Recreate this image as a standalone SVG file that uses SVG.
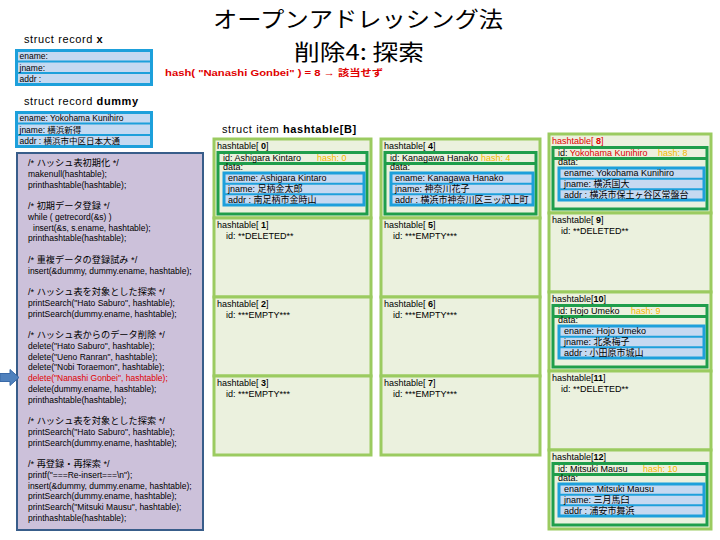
<svg xmlns="http://www.w3.org/2000/svg" width="720" height="540" viewBox="0 0 720 540">
<style>
.t{font-family:"Liberation Sans","Noto Sans CJK JP",sans-serif;font-size:9px;fill:#000}
.s{font-size:8.5px}
.cm{font-size:9.2px}
.b{font-weight:bold}
.red{fill:#E00000}
.hash{fill:#F5B800}
.cell{fill:#EBF1DE;stroke:#9BCB60;stroke-width:3}
.frame{fill:#EBF1DE;stroke:#1F9E4B;stroke-width:3}
.gsep{stroke:#1F9E4B;stroke-width:3}
.bframe{fill:#C5D9F1;stroke:#1DA0DB;stroke-width:3}
.bsep{stroke:#1DA0DB;stroke-width:2}
.code{fill:#CCC1DA;stroke:#385D8A;stroke-width:2}
.title{font-family:"Noto Sans CJK JP","Liberation Sans",sans-serif;font-size:22px;fill:#000;text-anchor:middle}
.lbl{font-family:"Liberation Sans","Noto Sans CJK JP",sans-serif;font-size:11px;letter-spacing:0.6px;fill:#000}
</style>

<g id="title">
<text class="title" x="358" y="27" textLength="290" lengthAdjust="spacingAndGlyphs">オープンアドレッシング法</text>
<text class="title" x="359" y="59.5" textLength="130" lengthAdjust="spacingAndGlyphs">削除4: 探索</text>
</g>

<g id="hash-note">
<text class="t b red" x="165" y="76" font-size="10" textLength="218" lengthAdjust="spacingAndGlyphs">hash( "Nanashi Gonbei" ) = 8 → 該当せず</text>
</g>

<g id="record-x">
<text class="lbl" x="24" y="43">struct record <tspan class="b">x</tspan></text>
<rect class="bframe" x="16.5" y="50.5" width="135" height="34"/>
<line class="bsep" x1="16.5" y1="61.5" x2="151.5" y2="61.5"/>
<line class="bsep" x1="16.5" y1="73" x2="151.5" y2="73"/>
<text class="t s" x="19.5" y="58.5">ename:</text>
<text class="t s" x="19.5" y="70.5">jname:</text>
<text class="t s" x="19.5" y="82">addr :</text>
</g>

<g id="record-dummy">
<text class="lbl" x="24" y="105">struct record <tspan class="b">dummy</tspan></text>
<rect class="bframe" x="16.5" y="112.5" width="135" height="34"/>
<line class="bsep" x1="16.5" y1="123.5" x2="151.5" y2="123.5"/>
<line class="bsep" x1="16.5" y1="135" x2="151.5" y2="135"/>
<text class="t s" x="19.5" y="121">ename: Yokohama Kunihiro</text>
<text class="t s" x="19.5" y="132.5">jname: 横浜新得</text>
<text class="t s" x="19.5" y="144">addr : 横浜市中区日本大通</text>
</g>

<g id="code">
<rect class="code" x="17" y="153" width="186" height="377"/>
<text class="t cm" x="28" y="166">/* ハッシュ表初期化 */</text>
<text class="t s" x="28" y="176.75">makenull(hashtable);</text>
<text class="t s" x="28" y="187.5">printhashtable(hashtable);</text>
<text class="t cm" x="28" y="209">/* 初期データ登録 */</text>
<text class="t s" x="28" y="219.75">while ( getrecord(&amp;s) )</text>
<text class="t s" x="33" y="230.5">insert(&amp;s, s.ename, hashtable);</text>
<text class="t s" x="28" y="241.25">printhashtable(hashtable);</text>
<text class="t cm" x="28" y="262.75">/* 重複データの登録試み */</text>
<text class="t s" x="28" y="273.5">insert(&amp;dummy, dummy.ename, hashtable);</text>
<text class="t cm" x="28" y="295">/* ハッシュ表を対象とした探索 */</text>
<text class="t s" x="28" y="305.75">printSearch("Hato Saburo", hashtable);</text>
<text class="t s" x="28" y="316.5">printSearch(dummy.ename, hashtable);</text>
<text class="t cm" x="28" y="338">/* ハッシュ表からのデータ削除 */</text>
<text class="t s" x="28" y="348.75">delete("Hato Saburo", hashtable);</text>
<text class="t s" x="28" y="359.5">delete("Ueno Ranran", hashtable);</text>
<text class="t s" x="28" y="370.25">delete("Nobi Toraemon", hashtable);</text>
<text class="t s red" x="28" y="381">delete("Nanashi Gonbei", hashtable);</text>
<text class="t s" x="28" y="391.75">delete(dummy.ename, hashtable);</text>
<text class="t s" x="28" y="402.5">printhashtable(hashtable);</text>
<text class="t cm" x="28" y="424">/* ハッシュ表を対象とした探索 */</text>
<text class="t s" x="28" y="434.75">printSearch("Hato Saburo", hashtable);</text>
<text class="t s" x="28" y="445.5">printSearch(dummy.ename, hashtable);</text>
<text class="t cm" x="28" y="467">/* 再登録・再探索 */</text>
<text class="t s" x="28" y="477.75">printf("===Re-insert===\n");</text>
<text class="t s" x="28" y="488.5">insert(&amp;dummy, dummy.ename, hashtable);</text>
<text class="t s" x="28" y="499.25">printSearch(dummy.ename, hashtable);</text>
<text class="t s" x="28" y="510">printSearch("Mitsuki Mausu", hashtable);</text>
<text class="t s" x="28" y="520.75">printhashtable(hashtable);</text>
</g>

<g id="struct-item">
<text class="lbl" x="222" y="133">struct item <tspan class="b">hashtable[B]</tspan></text>
</g>

<!-- column 1 -->
<g id="ht0">
<rect class="cell" x="214" y="139" width="157" height="79"/>
<text class="t" x="217" y="149">hashtable[ <tspan class="b">0</tspan>]</text>
<rect class="frame" x="218" y="152.5" width="149" height="61.5"/>
<line class="gsep" x1="218" y1="163.5" x2="367" y2="163.5"/>
<rect class="bframe" x="224" y="173" width="140" height="32"/>
<line class="bsep" x1="224" y1="183.7" x2="364" y2="183.7"/>
<line class="bsep" x1="224" y1="194.3" x2="364" y2="194.3"/>
<text class="t" x="223" y="160.5">id: Ashigara Kintaro</text>
<text class="t hash" x="317" y="160.5">hash: 0</text>
<text class="t" x="223" y="170">data:</text>
<text class="t" x="228" y="181.3">ename: Ashigara Kintaro</text>
<text class="t" x="228" y="192">jname: 足柄金太郎</text>
<text class="t" x="228" y="202.7">addr : 南足柄市金時山</text>
</g>
<g id="ht1">
<rect class="cell" x="214" y="218" width="157" height="79"/>
<text class="t" x="217" y="228">hashtable[ <tspan class="b">1</tspan>]</text>
<text class="t" x="226" y="239">id: **DELETED**</text>
</g>
<g id="ht2">
<rect class="cell" x="214" y="297" width="157" height="79"/>
<text class="t" x="217" y="307">hashtable[ <tspan class="b">2</tspan>]</text>
<text class="t" x="226" y="318">id: ***EMPTY***</text>
</g>
<g id="ht3">
<rect class="cell" x="214" y="376" width="157" height="79"/>
<text class="t" x="217" y="386">hashtable[ <tspan class="b">3</tspan>]</text>
<text class="t" x="226" y="397">id: ***EMPTY***</text>
</g>

<!-- column 2 -->
<g id="ht4">
<rect class="cell" x="381" y="139" width="159" height="79"/>
<text class="t" x="384" y="149">hashtable[ <tspan class="b">4</tspan>]</text>
<rect class="frame" x="385" y="152.5" width="151" height="61.5"/>
<line class="gsep" x1="385" y1="163.5" x2="536" y2="163.5"/>
<rect class="bframe" x="391" y="173" width="142" height="32"/>
<line class="bsep" x1="391" y1="183.7" x2="533" y2="183.7"/>
<line class="bsep" x1="391" y1="194.3" x2="533" y2="194.3"/>
<text class="t" x="390" y="160.5">id: Kanagawa Hanako</text>
<text class="t hash" x="481" y="160.5">hash: 4</text>
<text class="t" x="390" y="170">data:</text>
<text class="t" x="395" y="181.3">ename: Kanagawa Hanako</text>
<text class="t" x="395" y="192">jname: 神奈川花子</text>
<text class="t" x="395" y="202.7">addr : 横浜市神奈川区三ッ沢上町</text>
</g>
<g id="ht5">
<rect class="cell" x="381" y="218" width="159" height="79"/>
<text class="t" x="384" y="228">hashtable[ <tspan class="b">5</tspan>]</text>
<text class="t" x="393" y="239">id: ***EMPTY***</text>
</g>
<g id="ht6">
<rect class="cell" x="381" y="297" width="159" height="79"/>
<text class="t" x="384" y="307">hashtable[ <tspan class="b">6</tspan>]</text>
<text class="t" x="393" y="318">id: ***EMPTY***</text>
</g>
<g id="ht7">
<rect class="cell" x="381" y="376" width="159" height="79"/>
<text class="t" x="384" y="386">hashtable[ <tspan class="b">7</tspan>]</text>
<text class="t" x="393" y="397">id: ***EMPTY***</text>
</g>

<!-- column 3 -->
<g id="ht8">
<rect class="cell" x="549" y="134" width="162" height="79"/>
<text class="t red" x="552" y="144">hashtable[ <tspan class="b">8</tspan>]</text>
<rect class="frame" x="553" y="147.5" width="154" height="61.5"/>
<line class="gsep" x1="553" y1="158.5" x2="707" y2="158.5"/>
<rect class="bframe" x="559" y="168" width="145" height="32"/>
<line class="bsep" x1="559" y1="178.7" x2="704" y2="178.7"/>
<line class="bsep" x1="559" y1="189.3" x2="704" y2="189.3"/>
<text class="t" x="558" y="155.5">id: <tspan class="red">Yokohama Kunihiro</tspan></text>
<text class="t hash" x="658" y="155.5">hash: 8</text>
<text class="t" x="558" y="165">data:</text>
<text class="t" x="564" y="176.3">ename: Yokohama Kunihiro</text>
<text class="t" x="564" y="187">jname: 横浜国大</text>
<text class="t" x="564" y="197.7">addr : 横浜市保土ヶ谷区常盤台</text>
</g>
<g id="ht9">
<rect class="cell" x="549" y="213" width="162" height="79"/>
<text class="t" x="552" y="223">hashtable[ <tspan class="b">9</tspan>]</text>
<text class="t" x="561" y="234">id: **DELETED**</text>
</g>
<g id="ht10">
<rect class="cell" x="549" y="292" width="162" height="79"/>
<text class="t" x="552" y="302">hashtable[<tspan class="b">10</tspan>]</text>
<rect class="frame" x="553" y="305.5" width="154" height="61.5"/>
<line class="gsep" x1="553" y1="316.5" x2="707" y2="316.5"/>
<rect class="bframe" x="559" y="326" width="145" height="32"/>
<line class="bsep" x1="559" y1="336.7" x2="704" y2="336.7"/>
<line class="bsep" x1="559" y1="347.3" x2="704" y2="347.3"/>
<text class="t" x="558" y="313.5">id: Hojo Umeko</text>
<text class="t hash" x="631" y="313.5">hash: 9</text>
<text class="t" x="558" y="323">data:</text>
<text class="t" x="564" y="334.3">ename: Hojo Umeko</text>
<text class="t" x="564" y="345">jname: 北条梅子</text>
<text class="t" x="564" y="355.7">addr : 小田原市城山</text>
</g>
<g id="ht11">
<rect class="cell" x="549" y="371" width="162" height="79"/>
<text class="t" x="552" y="381">hashtable[<tspan class="b">11</tspan>]</text>
<text class="t" x="561" y="392">id: **DELETED**</text>
</g>
<g id="ht12">
<rect class="cell" x="549" y="450" width="162" height="79"/>
<text class="t" x="552" y="460">hashtable[<tspan class="b">12</tspan>]</text>
<rect class="frame" x="553" y="463.5" width="154" height="61.5"/>
<line class="gsep" x1="553" y1="474.5" x2="707" y2="474.5"/>
<rect class="bframe" x="559" y="484" width="145" height="32"/>
<line class="bsep" x1="559" y1="494.7" x2="704" y2="494.7"/>
<line class="bsep" x1="559" y1="505.3" x2="704" y2="505.3"/>
<text class="t" x="558" y="471.5">id: Mitsuki Mausu</text>
<text class="t hash" x="643" y="471.5">hash: 10</text>
<text class="t" x="558" y="481">data:</text>
<text class="t" x="564" y="492.3">ename: Mitsuki Mausu</text>
<text class="t" x="564" y="503">jname: 三月馬臼</text>
<text class="t" x="564" y="513.7">addr : 浦安市舞浜</text>
</g>

<g id="connectors">
<polygon points="0,373.5 10,373.5 10,369.5 19,377.5 10,385.5 10,381.5 0,381.5" fill="#4F81BD" stroke="#3A6AA8" stroke-width="1"/>
</g>
</svg>
